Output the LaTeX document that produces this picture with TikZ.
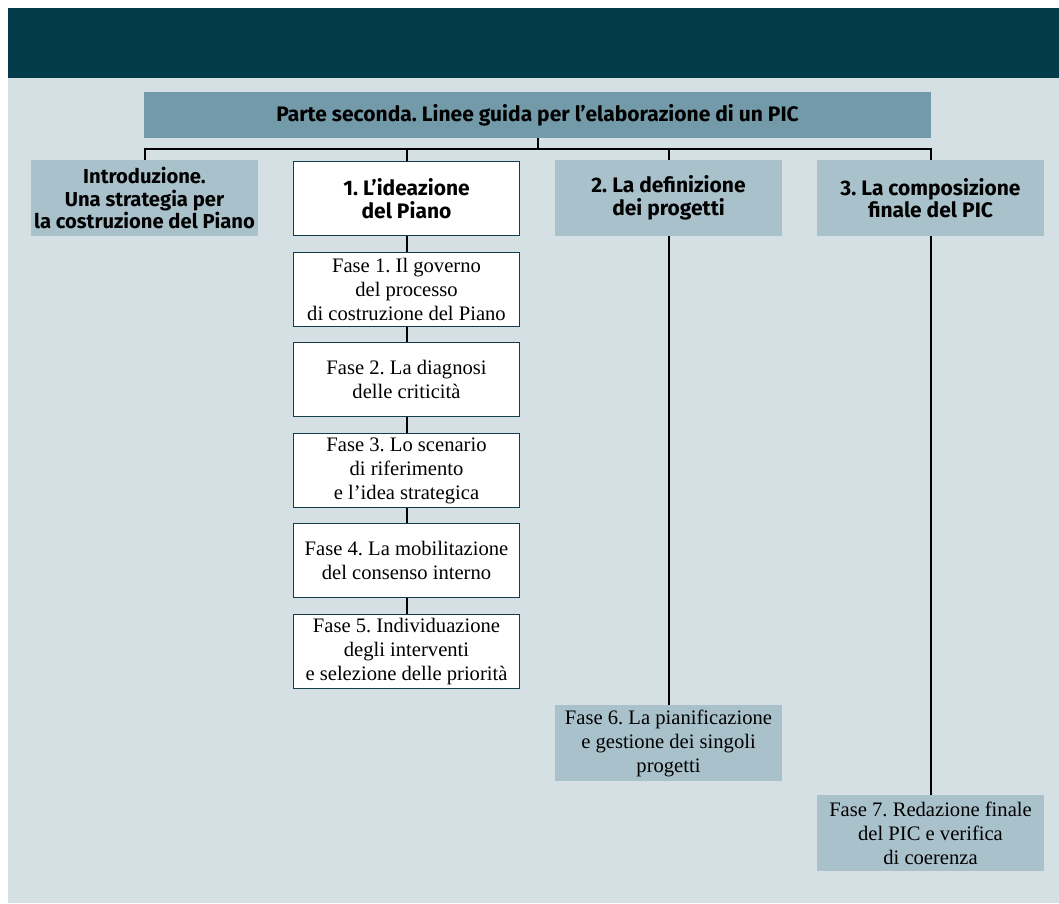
\documentclass[tikz,border=0pt]{standalone}
\usepackage{fontspec}
\setmainfont{Liberation Serif}
\newfontfamily\headfont{Fira Sans}
\definecolor{bandcol}{RGB}{3,59,74}
\definecolor{pagecol}{RGB}{213,224,229}
\definecolor{topcol}{RGB}{114,154,168}
\definecolor{midcol}{RGB}{169,193,202}
\definecolor{edgecol}{RGB}{20,60,75}
\begin{document}
\frenchspacing
\begin{tikzpicture}[x=1pt,y=-1pt,
  headtext/.style={font=\headfont\bfseries\fontsize{21}{22.5}\selectfont, text=black, align=center},
  topbox/.style={fill=topcol, minimum width=787pt, minimum height=46pt, inner sep=0pt, headtext},
  partbox/.style={fill=midcol, minimum width=227pt, minimum height=76pt, inner sep=0pt, headtext},
  ideabox/.style={fill=white, draw=edgecol, line width=1.2pt, minimum width=226pt, minimum height=74pt, inner sep=0pt, headtext},
  phasebox/.style={fill=white, draw=edgecol, line width=1.2pt, minimum width=226pt, minimum height=74pt, inner sep=0pt,
    font=\fontsize{20.6}{24}\selectfont, align=center},
  fasebox/.style={fill=midcol, minimum width=227pt, minimum height=76pt, inner sep=0pt,
    font=\fontsize{20.6}{24}\selectfont, align=center},
  link/.style={draw=black, line width=2pt}
]
% page, title band and panel
\useasboundingbox (0,0) rectangle (1059,903);
\fill[white] (0,0) rectangle (1059,903);
\fill[bandcol] (8,8) rectangle (1059,78);
\fill[pagecol] (8,78) rectangle (1059,903);

% top heading
\node[topbox] (top) at (537.5,115) {Parte seconda. Linee guida per l’elaborazione di un PIC};

% the four parts
\node[partbox, font=\headfont\bfseries\fontsize{20.2}{22.5}\selectfont] (intro) at (144.5,198)
  {Introduzione.\\Una strategia per\\la costruzione del Piano};
\node[ideabox] (idea) at (406.5,198.5) {1. L’ideazione\\del Piano};
\node[partbox] (defin) at (668.5,198) {2. La definizione\\dei progetti};
\node[partbox] (compo) at (930.5,198) {3. La composizione\\finale del PIC};

% phases of part 1
\node[phasebox] (f1) at (406.5,289.5) {Fase 1. Il governo\\del processo\\di costruzione del Piano};
\node[phasebox] (f2) at (406.5,379.5) {Fase 2. La diagnosi\\delle criticità};
\node[phasebox] (f3) at (406.5,470.5) {Fase 3. Lo scenario\\di riferimento\\e l’idea strategica};
\node[phasebox] (f4) at (406.5,560.5) {Fase 4. La mobilitazione\\del consenso interno};
\node[phasebox] (f5) at (406.5,651.5) {Fase 5. Individuazione\\degli interventi\\e selezione delle priorità};

% phases of parts 2 and 3
\node[fasebox] (f6) at (668.5,743) {Fase 6. La pianificazione\\e gestione dei singoli\\progetti};
\node[fasebox] (f7) at (930.5,833) {Fase 7. Redazione finale\\del PIC e verifica\\di coerenza};

% connectors
\coordinate (bus) at (537.5,149);
\draw[link] (top.south) -- (bus);
\draw[link] (intro.north) -- (intro.north |- bus) -- (compo.north |- bus) -- (compo.north);
\draw[link] (idea.north) -- (idea.north |- bus);
\draw[link] (defin.north) -- (defin.north |- bus);
\draw[link] (idea.south) -- (f1.north);
\draw[link] (f1.south) -- (f2.north);
\draw[link] (f2.south) -- (f3.north);
\draw[link] (f3.south) -- (f4.north);
\draw[link] (f4.south) -- (f5.north);
\draw[link] (defin.south) -- (f6.north);
\draw[link] (compo.south) -- (f7.north);
\end{tikzpicture}
\end{document}
